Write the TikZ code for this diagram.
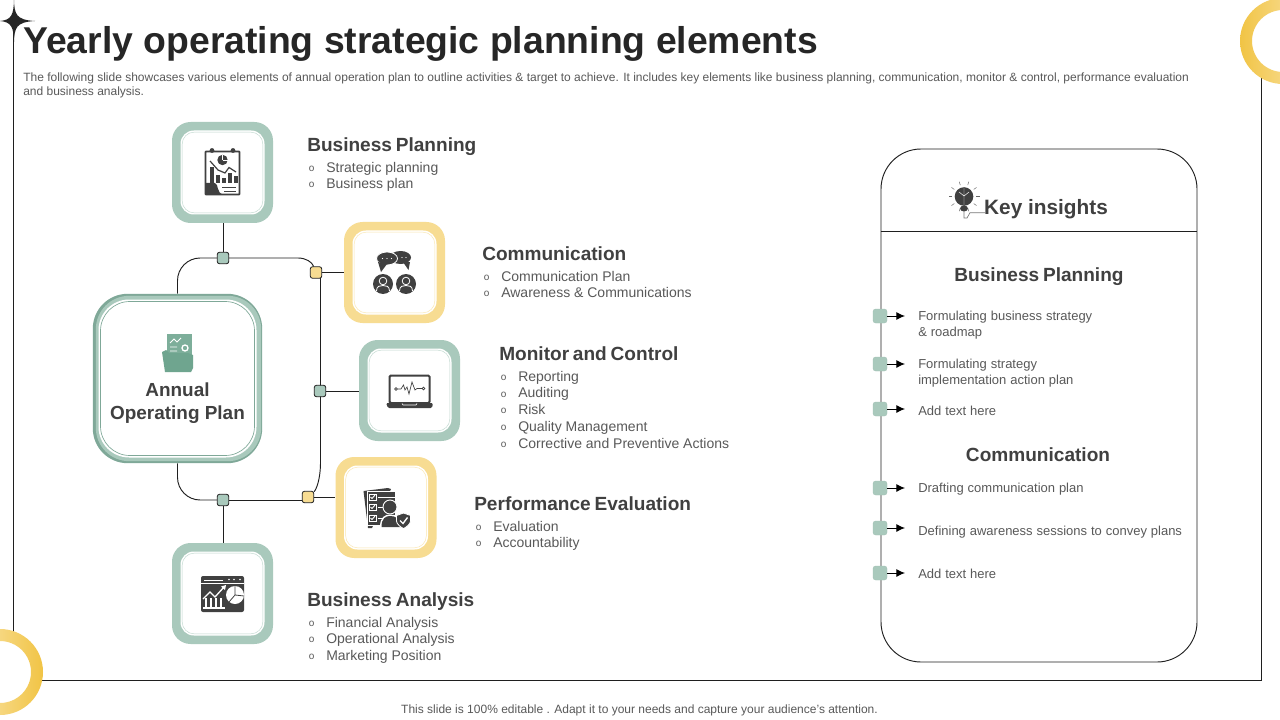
\documentclass[tikz,border=0pt]{standalone}
\usepackage{fontspec}
\setmainfont{Liberation Sans}
\usetikzlibrary{arrows.meta}
\pgfdeclarelayer{behind}
\pgfsetlayers{behind,main}
\definecolor{teal1}{HTML}{A9C9BC}
\definecolor{teal2}{HTML}{7FA898}
\definecolor{gold1}{HTML}{F7DC92}
\definecolor{ringd}{HTML}{F1C445}
\definecolor{ringl}{HTML}{FBE9B8}
\definecolor{ink}{HTML}{404040}
\definecolor{ttl}{HTML}{262626}
\definecolor{body}{HTML}{595959}
\definecolor{line}{HTML}{1F1F1F}
\definecolor{fold}{HTML}{6FA58F}
\newcount\tn
\newcommand{\panfont}{\fontsize{9.75}{11}\selectfont\spaceskip.3em\relax}
\newcommand{\headfont}{\fontsize{14.3}{17}\selectfont\bfseries\spaceskip.2em\relax}
\tikzset{
 outer/.style={rectangle,inner sep=0pt,minimum size=75.75pt,rounded corners=14pt,fill=#1},
 innerw/.style={rectangle,inner sep=0pt,minimum size=63pt,rounded corners=10pt,fill=white},
 innerl/.style={rectangle,inner sep=0pt,minimum size=60.5pt,rounded corners=9pt,draw=#1!75,line width=.35pt},
 joint/.style={rectangle,inner sep=0pt,minimum size=8.5pt,rounded corners=1.5pt,draw=line,line width=.6pt,fill=#1},
 pin/.style={rectangle,inner sep=0pt,minimum size=10.5pt,rounded corners=2pt,draw=teal2!70,line width=.3pt,fill=teal1},
 conn/.style={draw=line,line width=.7pt},
 arr/.style={draw=black,line width=.75pt,-{Latex[length=6.5pt,width=6pt]}},
 lbl/.style={anchor=base west,inner sep=0pt,text=#1},
 ttlf/.style={font=\fontsize{28}{32}\selectfont\bfseries},
 desc/.style={font=\fontsize{9}{10}\selectfont},
 headf/.style={font=\headfont},
 itemf/.style={font=\fontsize{10.5}{12}\selectfont},
 bulf/.style={font=\fontsize{7.5}{9}\selectfont},
 panf/.style={font=\panfont},
}
\newcommand{\tile}[4]{%
 \node[outer=#4] (#1) at (#2,#3) {};
 \node[innerw] (#1-w) at (#2,#3) {};
 \node[innerl=#4] (#1-l) at (#2,#3) {};
}
\newcommand{\itm}[4]{% bullet x, text x, y, text
 \global\advance\tn by 1
 \node[lbl=body,bulf] (b\the\tn) at (#1,#3+4.5) {o};
 \node[lbl=body,itemf] (i\the\tn) at (#2,#3+5.3) {#4};
}
\newcommand{\head}[3]{%
 \global\advance\tn by 1
 \node[lbl=ink,headf] (h\the\tn) at (#1,#2+6.7) {#3};
}
\begin{document}
\begin{tikzpicture}[x=.75pt,y=-.75pt]
\useasboundingbox (0,0) rectangle (1280,720);
\clip (0,0) rectangle (1280,720);
\begin{pgfonlayer}{behind}
\fill[white] (0,0) rectangle (1280,720);
\end{pgfonlayer}
% frame
\draw[conn] (13.5,20) -- (13.5,636);
\draw[conn] (35,680.5) -- (1261,680.5) -- (1261,70);
% rings
\shade[even odd rule,left color=ringd,right color=ringl] (1283,41) circle[radius=43] (1283,41) circle[radius=31];
\shade[even odd rule,left color=ringl,right color=ringd] (0,672) circle[radius=43] (0,672) circle[radius=31];
% star
\fill[ttl] (14,0) .. controls (14.5,14) and (16,20) .. (35,21) .. controls (16,22) and (14.5,28) .. (14,42)
 .. controls (13.5,28) and (12,22) .. (0,21) .. controls (12,20) and (13.5,14) .. (14,0) -- cycle;
% title
\node[lbl=ttl,ttlf] (title) at (23,53.5) {Yearly operating strategic planning elements};
\node[lbl=body,desc] (d1) at (23,82) {The following slide showcases various elements of annual operation plan to outline activities \& target to achieve. It includes key elements like business planning, communication, monitor \& control, performance evaluation};
\node[lbl=body,desc] (d2) at (23,96) {and business analysis.};
\node[anchor=center,inner sep=0pt,text=body,desc] (foot) at (639.5,710) {This slide is 100\% editable . Adapt it to your needs and capture your audience's attention.};
% tiles
\tile{bp}{222.5}{172.5}{teal1}
\tile{co}{394.5}{272.5}{gold1}
\tile{mc}{409.5}{390.5}{teal1}
\tile{pe}{386}{507.5}{gold1}
\tile{ba}{222.5}{593.5}{teal1}
% annual plan
\node[rectangle,inner sep=0pt,minimum size=127pt,rounded corners=26pt,fill=teal2] (apl-s) at (177.5,378.5) {};
\node[rectangle,inner sep=0pt,minimum size=124pt,rounded corners=25pt,fill=teal1] (apl) at (178.5,378.5) {};
\node[rectangle,inner sep=0pt,minimum size=118.5pt,rounded corners=23pt,fill=white] (apl-w) at (177.5,378.5) {};
\node[rectangle,inner sep=0pt,minimum size=115.5pt,rounded corners=22pt,draw=teal2,line width=.5pt] (apl-l) at (177.5,378.5) {};
\node[inner sep=0pt,text=ink,align=center,font=\fontsize{14.2}{17}\selectfont\bfseries] (apl-t) at (177.5,403) {Annual\\Operating Plan};
% joints
\node[joint=teal1] (n1) at (223,258) {};
\node[joint=gold1] (n2) at (316,272.5) {};
\node[joint=teal1] (n3) at (320,391) {};
\node[joint=gold1] (n4) at (308,497) {};
\node[joint=teal1] (n5) at (223,500) {};
\coordinate (v1) at (320.5,273);
\coordinate (v2) at (320.5,462);
\begin{pgfonlayer}{behind}
\draw[conn] (bp.south -| n1) -- (n1);
\draw[conn] (n5) -- (ba.north -| n5);
\draw[conn,rounded corners=17pt] (apl-s.north) |- (n1);
\draw[conn,rounded corners=17pt] (apl-s.south) |- (n5);
\draw[conn] (n1) -- (298,258) .. controls (306,258) and (312,262) .. (n2);
\draw[conn] (n2) -- (co.west |- n2);
\draw[conn] (v1) -- (v2) .. controls (320.5,480) and (316,490) .. (n4);
\draw[conn] (n3) -- (mc.west |- n3);
\draw[conn] (n5) -- (n5 -| n4.west);
\draw[conn] (n4) -- (pe.west |- n4);
\end{pgfonlayer}
% lists
\head{307}{145}{Business Planning}
\itm{308.5}{326}{167}{Strategic planning}
\itm{308.5}{326}{183}{Business plan}
\head{482}{254}{Communication}
\itm{483.5}{501}{276}{Communication Plan}
\itm{483.5}{501}{292}{Awareness \& Communications}
\head{499}{354}{Monitor and Control}
\itm{500.5}{518}{376}{Reporting}
\itm{500.5}{518}{392.5}{Auditing}
\itm{500.5}{518}{409}{Risk}
\itm{500.5}{518}{426}{Quality Management}
\itm{500.5}{518}{443}{Corrective and Preventive Actions}
\head{474}{504}{Performance Evaluation}
\itm{475.5}{493}{526}{Evaluation}
\itm{475.5}{493}{542}{Accountability}
\head{307}{600}{Business Analysis}
\itm{308.5}{326}{622}{Financial Analysis}
\itm{308.5}{326}{638}{Operational Analysis}
\itm{308.5}{326}{655}{Marketing Position}
% panel
\node[rectangle,inner sep=0pt,minimum width=237pt,minimum height=384.75pt,rounded corners=30pt,draw=line,line width=.7pt] (panel) at (1039,405.5) {};
\draw[conn] (panel.west |- 0,231) -- (panel.east |- 0,231);
\node[inner sep=0pt,text=ink,font=\fontsize{15.6}{18}\selectfont\bfseries] (ki) at (1046,209) {Key insights};
\node[inner sep=0pt,text=ink,headf] (pbp) at (1039,277) {Business Planning};
\node[inner sep=0pt,text=ink,headf] (pco) at (1038,455) {Communication};
\foreach \k/\yy in {1/316,2/364,3/409,4/488,5/528,6/573}{
 \node[pin] (p\k) at (880,\yy) {};
 \coordinate (e\k) at (905,\yy);
 \draw[arr] (p\k) -- (e\k);
}
\node[lbl=body,panf] (pt1) at (918,320) {Formulating business strategy};
\node[lbl=body,panf] (pt1b) at (918,336) {\& roadmap};
\node[lbl=body,panf] (pt2) at (918,368) {Formulating strategy};
\node[lbl=body,panf] (pt2b) at (918,384) {implementation action plan};
\node[lbl=body,panf] (pt3) at (918,415.5) {Add text here};
\node[lbl=body,panf] (pt4) at (918,492.5) {Drafting communication plan};
\node[lbl=body,panf] (pt5) at (918,535.5) {Defining awareness sessions to convey plans};
\node[lbl=body,panf] (pt6) at (918,578.5) {Add text here};
% --- icon: report clipboard
\draw[ink,line width=1.4pt,fill=white,rounded corners=.5pt] (205.5,151.5) rectangle (239.5,194.5);
\fill[ink] (212,150.5) circle[radius=2.4] (233,150.5) circle[radius=2.4];
\fill[ink] (222.5,160) circle[radius=5.2];
\draw[white,line width=.6pt] (222.5,160) -- (222.5,155) (222.5,160) -- (227.5,160);
\draw[ink,line width=.9pt] (210,161) -- (218,170) -- (225,173) -- (229,167.5) -- (236,172);
\foreach \a/\b in {210/167,216/175,222/178,228/173,233.5/176}{
 \fill[ink] (\a,\b) rectangle (\a+4,183);
}
\fill[ink] (205.5,183) -- (215,183) .. controls (219,184) and (216,194) .. (224,194.5) -- (205.5,194.5) -- cycle;
\draw[ink,line width=.7pt] (222,187.5) -- (236,187.5) (224,191) -- (236,191);
% --- icon: communication
\fill[ink] (400.5,257.5) ellipse[x radius=10.5,y radius=6.5];
\fill[ink] (403,262) -- (410,262) -- (408.5,270) -- cycle;
\draw[white,fill=ink,line width=.6pt] (387,258.5) ellipse[x radius=10.5,y radius=6.5];
\fill[ink] (378,262) -- (387,264) -- (381,272) -- cycle;
\fill[white] (382.5,258.5) circle[radius=.7] (387,258.5) circle[radius=.7] (391.5,258.5) circle[radius=.7] (402,257.5) circle[radius=.7] (406,257.5) circle[radius=.7];
\foreach \cx in {383,406}{
 \fill[ink] (\cx,284) circle[radius=10];
 \draw[white,line width=.6pt] (\cx,281) circle[radius=3.8];
 \draw[white,line width=.6pt] (\cx-6.5,291) .. controls (\cx-6.5,286) and (\cx-3,285.5) .. (\cx,285.5) .. controls (\cx+3,285.5) and (\cx+6.5,286) .. (\cx+6.5,291);
}
% --- icon: laptop
\draw[ink,line width=1.5pt,fill=white,rounded corners=1pt] (389.5,375.5) rectangle (429.5,403);
\fill[ink,rounded corners=1pt] (386,403) -- (433,403) -- (432,408) -- (388,408) -- cycle;
\draw[white,line width=.5pt] (402,403.5) -- (403,405) -- (416,405) -- (417,403.5);
\draw[ink,line width=.5pt] (396,389) circle[radius=1.3] (423.5,388.5) circle[radius=1.3];
\draw[ink,line width=.5pt] (397.3,389) -- (401,389) -- (403.5,385) -- (405,390) -- (407,387) -- (409,394) -- (412,382) -- (415,390) -- (417,388.5) -- (422.2,388.5);
% --- icon: performance
\fill[ink] (363.5,491) -- (388,488) -- (391,489) -- (372,528) -- (368,528) -- cycle;
\draw[white,line width=.6pt,fill=ink] (367,491) rectangle (395,525);
\foreach \yy in {497,507,518}{
 \draw[white,fill=ink,line width=.5pt] (369,\yy-3) rectangle (376,\yy+3);
 \draw[white,line width=.7pt] (370.5,\yy) -- (372,\yy+1.5) -- (375,\yy-2);
 \draw[white,line width=.6pt] (378,\yy) -- (395,\yy);
}
\draw[white,fill=ink,line width=.7pt] (390,507) circle[radius=7];
\fill[white] (380,527) .. controls (380,517) and (385,514.5) .. (390,514.5) .. controls (396,514.5) and (402,517) .. (403,527) -- cycle;
\fill[ink] (381.5,527) .. controls (381.5,518) and (386,516) .. (390,516) .. controls (395,516) and (400,518) .. (401,527) -- cycle;
\draw[white,fill=ink,line width=.6pt] (403.5,513) -- (410.5,515.5) -- (410.5,521) .. controls (410.5,524) and (406,527.5) .. (403.5,528.5) .. controls (401,527.5) and (396.5,524) .. (396.5,521) -- (396.5,515.5) -- cycle;
\draw[white,line width=1pt] (400,520.5) -- (403,523.5) -- (407.5,517.5);
% --- icon: analysis
\fill[ink,rounded corners=1.5pt] (201,576) rectangle (244,612);
\draw[white,line width=.6pt] (204,580) -- (223,580) (201,583) -- (244,583);
\fill[white] (229,579.5) circle[radius=.9] (234,579.5) circle[radius=.9] (240,579.5) circle[radius=.9];
\draw[white,line width=1pt] (203,599) -- (210,592) -- (215,597) -- (224,587);
\fill[white] (221,586.5) -- (226,585) -- (225,590) -- cycle;
\foreach \a in {205,210,215,220}{\fill[white] (\a,598) rectangle (\a+1.8,607);}
\fill[white] (202.5,607) rectangle (225,608.5);
\fill[white] (235,595) circle[radius=9];
\draw[ink,line width=.6pt] (235,595) -- (235,586) (235,595) -- (244,596) (235,595) -- (229,602);
% --- icon: folder
\fill[fold!90] (167,334) rectangle (192,357);
\draw[white,line width=.6pt] (170,343) -- (174,339) -- (177,342) -- (181,338) (170,347) -- (177,347) (170,351) -- (177,351);
\draw[white,line width=1pt] (185,348) circle[radius=3];
\fill[fold] (162,352) -- (165,372) -- (191,372) -- (193,368) -- (193,355) -- (188,353) -- (169,353) -- (166,350) -- cycle;
% --- icon: bulb
\fill[ink] (964,196.5) circle[radius=9.3];
\draw[white,line width=.35pt] (964,188) -- (964,205) (959,192) -- (964,196) (969,192) -- (964,196);
\fill[ink] (964,208.5) ellipse[x radius=4,y radius=3];
\foreach \ang in {0,36,...,324}{
 \draw[ink!80,line width=.35pt] (964,196.5) ++(\ang:12) -- ++(\ang:3.5);
}
\draw[ink!70,line width=.5pt] (964,211) -- (964,218) -- (967,218) -- (970,212.7) -- (985,212.7);
\end{tikzpicture}
\end{document}
